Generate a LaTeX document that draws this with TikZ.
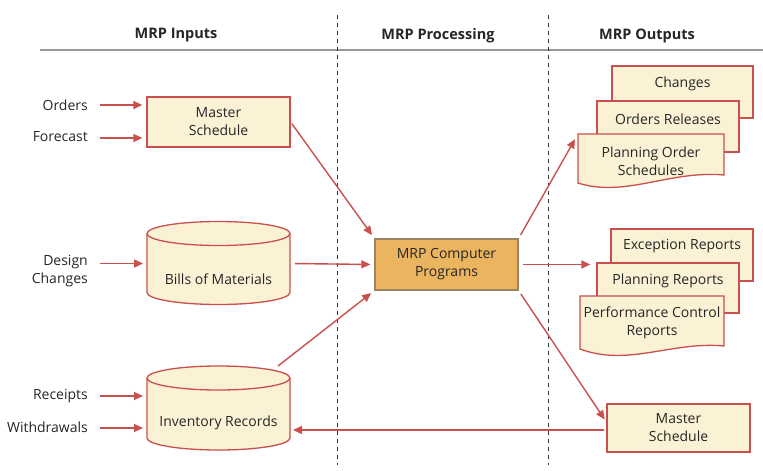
\documentclass[tikz,border=0pt]{standalone}
\usepackage{fontspec}
\setmainfont{Open Sans}
\usepackage{xcolor}
\usepackage{tikz}
\usetikzlibrary{arrows.meta,positioning,calc}

\definecolor{mrpred}{HTML}{C9504C}
\definecolor{mrpcream}{HTML}{FBF2D6}
\definecolor{mrporange}{HTML}{EBB45F}
\definecolor{mrpbrown}{HTML}{9C8462}
\definecolor{mrptext}{HTML}{262626}

\begin{document}
\begin{tikzpicture}[x=1pt, y=-1pt,
    font=\fontsize{14}{18}\selectfont, text=mrptext,
    header/.style={font=\fontsize{14.5}{18}\selectfont\bfseries},
    inlabel/.style={anchor=east, align=right, inner sep=0pt},
    box/.style={draw=mrpred, fill=mrpcream, line width=1.3pt, minimum width=143pt, minimum height=50pt, align=center, inner sep=0pt},
    page/.style={draw=mrpred, fill=mrpcream, line width=1.3pt, inner sep=0pt},
    prog/.style={draw=mrpbrown, fill=mrporange, line width=1.3pt, minimum width=143pt, minimum height=51pt, align=center},
    store/.style={draw=mrpred, fill=mrpcream, line width=1.3pt},
    hold/.style={draw=none, inner sep=0pt, outer sep=0pt, align=center},
    arrow/.style={-{Triangle[length=9pt,width=8pt]}, draw=mrpred, line width=1.4pt},
    divider/.style={dash pattern=on 4pt off 4pt, line width=0.9pt, black!80}
]
\useasboundingbox (0,0) rectangle (763,471);

% column heads
\node[header] (hin) at (176,35.5) {MRP Inputs};
\node[header] (hproc) at (438,35.5) {MRP Processing};
\node[header] (hout) at (647,35.5) {MRP Outputs};
\draw[black!40, line width=1.8pt] (40,50) -- (763,50);
\draw[divider] (337,15) -- (337,465);
\draw[divider] (548,15) -- (548,465);

% inputs
\node[inlabel] (orders) at (88,105) {Orders};
\node[inlabel] (forecast) at (88,137) {Forecast};
\node[inlabel] (design) at (88,271) {Design\\Changes};
\node[inlabel] (receipts) at (88,396) {Receipts};
\node[inlabel] (withdraw) at (88,427) {Withdrawals};

\node[box] (ms) at (218.5,122) {Master\\Schedule};

% bills of materials
\node[hold, minimum width=143pt, minimum height=84pt] (bom) at (218.5,263.5) {};
\draw[store] ($(bom.north west)+(0,12)$) -- ++(0,59)
    arc[start angle=180, end angle=0, x radius=71.5, y radius=12] -- ++(0,-59)
    arc[start angle=0, end angle=-180, x radius=71.5, y radius=12] -- cycle;
\draw[store, fill=none] ($(bom.north west)+(0,12)$)
    arc[start angle=180, end angle=0, x radius=71.5, y radius=12];
\node (bomtext) at (218.5,279) {Bills of Materials};

% inventory records
\node[hold, minimum width=143pt, minimum height=84pt] (inv) at (218.5,408) {};
\draw[store] ($(inv.north west)+(0,12)$) -- ++(0,60)
    arc[start angle=180, end angle=0, x radius=71.5, y radius=12] -- ++(0,-60)
    arc[start angle=0, end angle=-180, x radius=71.5, y radius=12] -- cycle;
\draw[store, fill=none] ($(inv.north west)+(0,12)$)
    arc[start angle=180, end angle=0, x radius=71.5, y radius=12];
\node (invtext) at (218.5,423) {Inventory Records};

% processing
\node[prog] (prog) at (446.5,264.5) {MRP Computer\\Programs};

% outputs, first stack
\node[page, minimum width=141pt, minimum height=52pt] (chg) at (682.5,92) {};
\node (chgtext) at (682.5,84) {Changes};
\node[page, minimum width=142pt, minimum height=51pt] (ordrel) at (668,126.5) {};
\node (ordreltext) at (668,119) {Orders Releases};
\node[hold, minimum width=146pt, minimum height=49pt] (pos) at (651,158.5) {};
\draw[store] (pos.north west) -- (pos.north east) -- (724,175)
    .. controls (670,170) and (625,198) .. (578,183) -- cycle;
\node[align=center] (postext) at (651,161) {Planning Order\\Schedules};

% outputs, second stack
\node[page, minimum width=142pt, minimum height=52pt] (exc) at (682,255) {};
\node (exctext) at (682,246) {Exception Reports};
\node[page, minimum width=142pt, minimum height=50pt] (plr) at (668,288) {};
\node (plrtext) at (668,281) {Planning Reports};
\node[hold, minimum width=144pt, minimum height=53pt] (pcr) at (652,322.5) {};
\draw[store] (pcr.north west) -- (pcr.north east) -- (724,346)
    .. controls (672,341) and (628,367) .. (580,349) -- cycle;
\node[align=center] (pcrtext) at (652,323) {Performance Control\\Reports};

\node[box, minimum height=48pt] (msout) at (678.5,428) {Master\\Schedule};

% connectors
\draw[arrow] ($(orders.east)+(12,0)$) -- ($(orders.east -| ms.west)+(-4,0)$);
\draw[arrow] ($(forecast.east)+(12,1)$) -- ($(forecast.east -| ms.west)+(-4,1)$);
\draw[arrow] ($(design.east |- bom.west)+(12,0)$) -- ($(bom.west)+(-4,0)$);
\draw[arrow] ($(receipts.east)+(12,0)$) -- ($(receipts.east -| inv.west)+(-4,0)$);
\draw[arrow] ($(withdraw.east)+(12,1)$) -- ($(withdraw.east -| inv.west)+(-4,1)$);

\draw[arrow, shorten <=2pt, shorten >=4pt] (ms.east) -- (prog.north west);
\draw[arrow, shorten <=5pt, shorten >=4pt] (bom.east) -- (prog.west);
\draw[arrow, shorten >=4pt] ($(inv.north east)+(-12,0)$) -- (prog.south west);

\draw[arrow, shorten <=4pt, shorten >=6pt] (prog.north east) -- (pos.north west);
\draw[arrow, shorten <=4pt, shorten >=6pt] (prog.east) -- (prog.east -| plr.west);
\draw[arrow, shorten <=4pt, shorten >=3pt] (prog.south east) -- ($(msout.west)+(0,-6)$);
\draw[arrow, shorten <=2pt, shorten >=3pt] ($(msout.west)+(0,2)$) -- ($(msout.west -| inv.east)+(0,2)$);
\end{tikzpicture}
\end{document}
